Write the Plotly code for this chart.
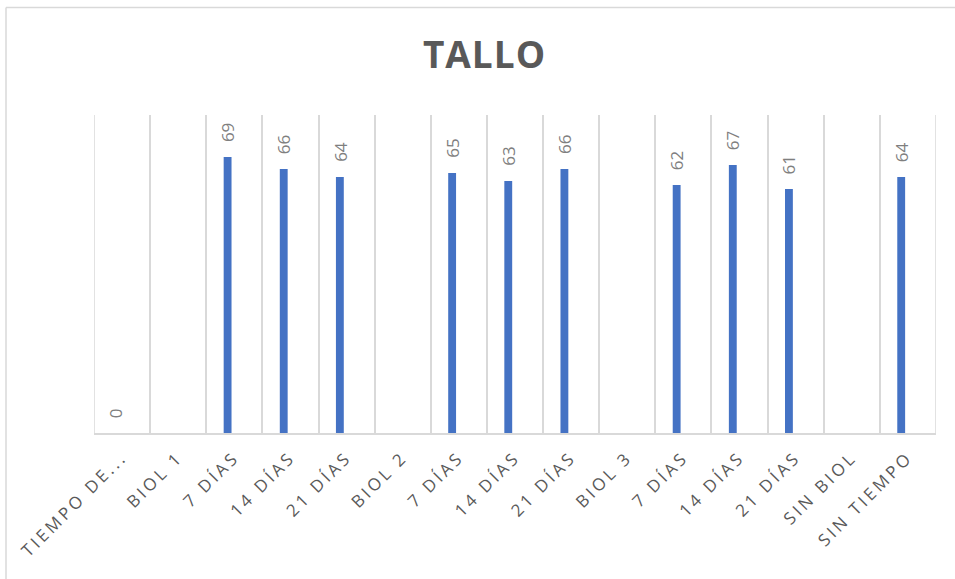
import plotly.graph_objects as go

categories = ["TIEMPO DE...", "BIOL 1", "7 DÍAS", "14 DÍAS", "21 DÍAS", "BIOL 2",
              "7 DÍAS", "14 DÍAS", "21 DÍAS", "BIOL 3", "7 DÍAS", "14 DÍAS",
              "21 DÍAS", "SIN BIOL", "SIN TIEMPO"]
values = [0, None, 69, 66, 64, None, 65, 63, 66, None, 62, 67, 61, None, 64]
title_text = "TALLO"

W, H = 955, 579
ML, MR, MT, MB = 94, 19, 115, 146
pw, ph = W - ML - MR, H - MT - MB

idx = list(range(len(categories)))
bar_w = 0.14
bar_off = -0.19
grid_col = "#d9d9d9"

fig = go.Figure()
fig.add_trace(go.Bar(
    x=idx, y=values, width=bar_w, offset=bar_off,
    marker=dict(color="#4472c4", line=dict(width=0)),
    hoverinfo="skip",
))

annotations = []
for i, v in zip(idx, values):
    if v is None:
        continue
    annotations.append(dict(
        x=i + bar_off + bar_w / 2, y=v, xref="x", yref="y",
        text=str(v), showarrow=False, textangle=-90,
        xanchor="center", yanchor="bottom", yshift=13,
        font=dict(family="Open Sans", size=17, color="#7f7f7f"),
    ))

tick_text = [f'<span style="letter-spacing:3.2px">{c}</span>' for c in categories]

def px_x(p):
    return (p - ML) / pw

def px_y(p):
    return (H - MB - p) / ph

shapes = [
    dict(type="line", xref="paper", yref="paper",
         x0=px_x(6), x1=px_x(W + 5), y0=px_y(7.5), y1=px_y(7.5),
         line=dict(color=grid_col, width=1.5)),
    dict(type="line", xref="paper", yref="paper",
         x0=px_x(6), x1=px_x(6), y0=px_y(7.5), y1=px_y(H + 5),
         line=dict(color=grid_col, width=1.5)),
]
# category boundary gridlines at the two plot edges
for xb in (-0.5, len(categories) - 0.5):
    shapes.append(dict(type="line", xref="x", yref="paper", x0=xb, x1=xb, y0=0, y1=1,
                       line=dict(color=grid_col, width=1.5), layer="below"))

fig.update_layout(
    width=W, height=H,
    margin=dict(l=ML, r=MR, t=MT, b=MB),
    paper_bgcolor="white", plot_bgcolor="white",
    showlegend=False,
    title=dict(text=f'<span style="letter-spacing:1px">{title_text}</span>',
               x=0.5 + 7 / W, xref="container", xanchor="center",
               y=1 - 55 / H, yref="container", yanchor="middle",
               font=dict(family="Open Sans", size=37, color="#595959", weight="bold")),
    annotations=annotations,
    shapes=shapes,
    xaxis=dict(
        range=[-0.5, len(categories) - 0.5],
        tickmode="array", tickvals=idx, ticktext=tick_text,
        tickangle=-45, ticks="", ticklabelstandoff=6,
        tickfont=dict(family="Open Sans", size=17, color="#595959"),
        showgrid=False, zeroline=False,
        showline=True, linecolor=grid_col, linewidth=1.5,
        minor=dict(tickmode="array", tickvals=[i - 0.5 for i in range(len(categories) + 1)],
                   showgrid=True, gridcolor=grid_col, gridwidth=1.5, ticks=""),
        fixedrange=True,
    ),
    yaxis=dict(range=[0, 79.5], visible=False, showgrid=False, fixedrange=True),
)

fig.write_html("out.html", config={"displayModeBar": False})
